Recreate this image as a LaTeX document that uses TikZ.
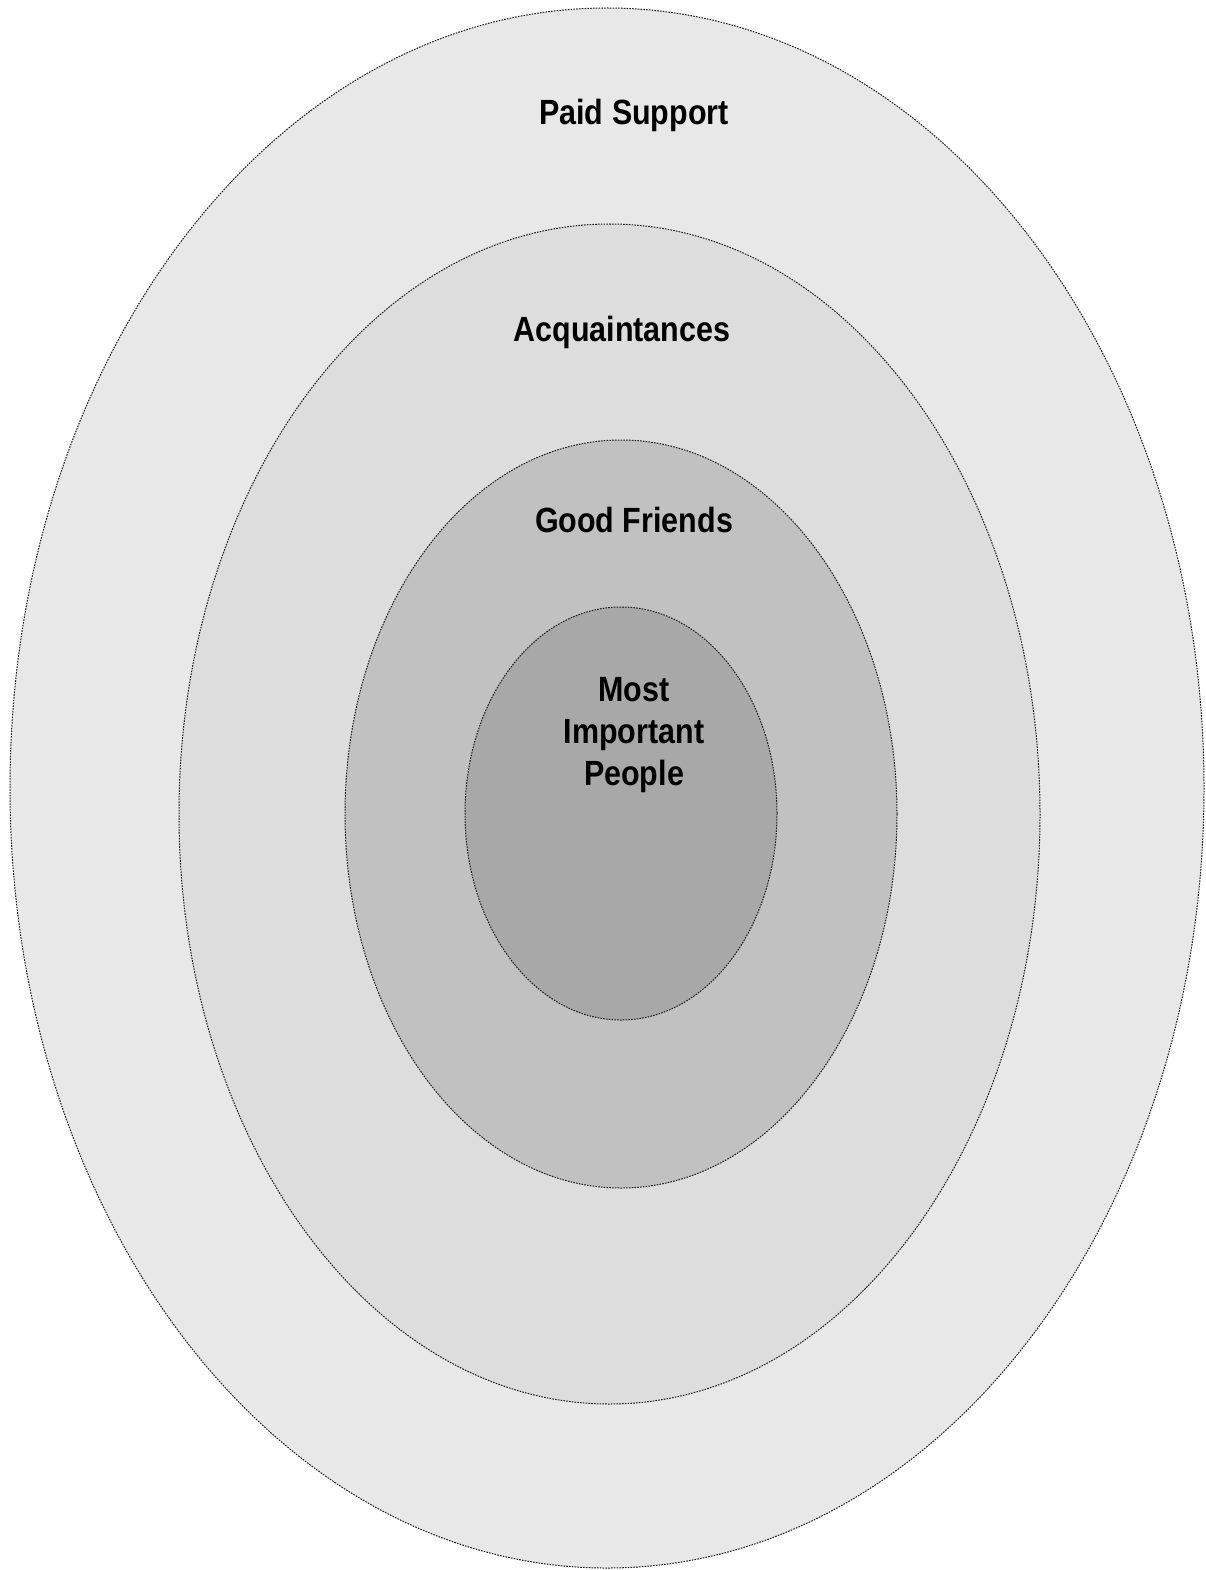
\documentclass[tikz,border=0pt]{standalone}
\usepackage{fontspec}
\setmainfont{Liberation Sans}[FakeStretch=0.87]
\begin{document}
\begin{tikzpicture}[x=1pt,y=-1pt,
  ring/.style={draw=black!90, line width=1pt, dash pattern=on 1.6pt off 1.2pt},
  lbl/.style={font=\bfseries\fontsize{35}{42}\selectfont, text=black, align=center, inner sep=0pt}]
\useasboundingbox (0,0) rectangle (1206,1570);
\fill[white] (0,0) rectangle (1206,1570);
\path[ring, fill={rgb,255:red,232;green,232;blue,232}] (607,788) ellipse [x radius=597, y radius=780];
\path[ring, fill={rgb,255:red,221;green,221;blue,221}] (609.5,814) ellipse [x radius=430.5, y radius=590];
\path[ring, fill={rgb,255:red,193;green,193;blue,193}] (621,814) ellipse [x radius=276, y radius=374];
\path[ring, fill={rgb,255:red,168;green,168;blue,168}] (621,813.5) ellipse [x radius=156, y radius=206.5];
\node[lbl, anchor=base] (paid) at (634,125) {Paid Support};
\node[lbl, anchor=base] (acq) at (622,341) {Acquaintances};
\node[lbl, anchor=base] (good) at (634,532) {Good Friends};
\node[lbl, anchor=base] (most) at (634,701) {Most};
\node[lbl, anchor=base] (imp) at (634,743) {Important};
\node[lbl, anchor=base] (peo) at (634,785) {People};
\end{tikzpicture}
\end{document}
